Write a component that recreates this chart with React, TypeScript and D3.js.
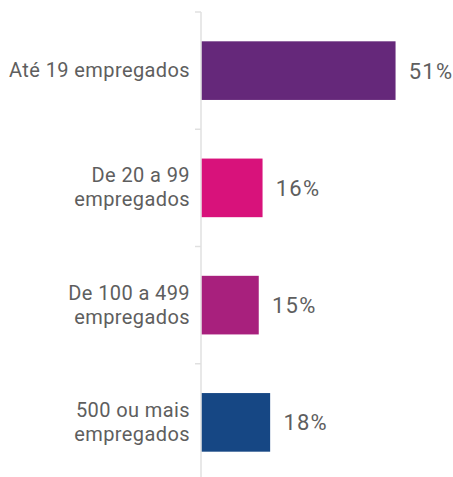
import React from "react";
import * as d3 from "d3";

const categories: string[][] = [
  ["Até 19 empregados"],
  ["De 20 a 99", "empregados"],
  ["De 100 a 499", "empregados"],
  ["500 ou mais", "empregados"],
];
const values: number[] = [51, 16, 15, 18];
const colors: string[] = ["#65287a", "#d8127b", "#a8207d", "#164784"];

const W = 453;
const H = 477;

export default function App() {
  const keys = categories.map((c) => c.join(" "));
  const y = d3
    .scaleBand<string>()
    .domain(keys)
    .range([12, 481])
    .paddingInner(0.5)
    .paddingOuter(0.25);
  const x = d3.scaleLinear().domain([0, 60]).range([201, 429]);
  const step = y.step();
  const bounds = keys.map((k) => (y(k) as number) - step * 0.25);

  return (
    <svg
      width={W}
      height={H}
      style={{ position: "absolute", left: 0, top: 0, background: "#fff" }}
      fontFamily="Roboto, 'Noto Sans', sans-serif"
    >
      <line x1={201} x2={201} y1={12} y2={481} stroke="#e0e0e0" strokeWidth={1.5} />
      {bounds.map((b, i) => (
        <line key={"t" + i} x1={195} x2={201} y1={b} y2={b} stroke="#e0e0e0" strokeWidth={1.5} />
      ))}
      {keys.map((k, i) => {
        const y0 = y(k) as number;
        const c = y0 + y.bandwidth() / 2;
        const lines = categories[i];
        const first = c + 6.5 - ((lines.length - 1) * 24) / 2;
        return (
          <g key={k}>
            <rect
              x={x(0) + 0.75}
              y={y0}
              width={x(values[i]) - x(0)}
              height={y.bandwidth()}
              fill={colors[i]}
            />
            <text
              x={x(values[i]) + 14}
              y={c + 8}
              fontSize={22}
              fill="#5e5e5e"
              letterSpacing={1.2}
            >
              {values[i] + "%"}
            </text>
            <text textAnchor="end" fontSize={20} fill="#5e5e5e" letterSpacing={0.4}>
              {lines.map((l, j) => (
                <tspan key={j} x={190} y={first + j * 24}>
                  {l}
                </tspan>
              ))}
            </text>
          </g>
        );
      })}
    </svg>
  );
}
